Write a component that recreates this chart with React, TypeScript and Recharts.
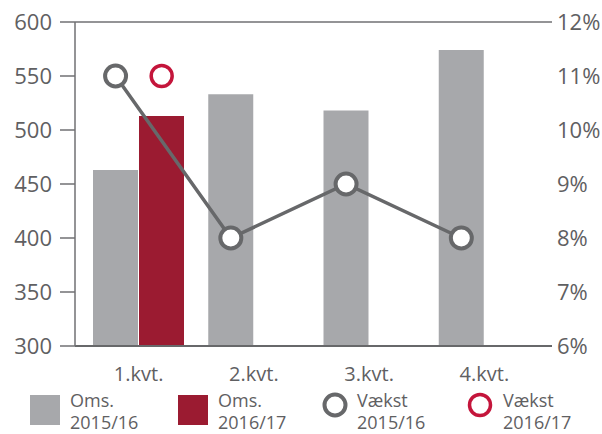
import React from 'react';
import { ComposedChart, Bar, Line, XAxis, YAxis, CartesianGrid, Legend } from 'recharts';

const quarters = ['1.kvt.', '2.kvt.', '3.kvt.', '4.kvt.'];
const oms1516 = [463, 533, 518, 574];
const oms1617: (number | null)[] = [513, null, null, null];
const vaekst1516 = [11, 8, 9, 8];
const vaekst1617: (number | null)[] = [11, null, null, null];
const leftTicks = [300, 350, 400, 450, 500, 550, 600];
const rightTicks = [6, 7, 8, 9, 10, 11, 12];

const FONT = '"Open Sans", "Noto Sans", sans-serif';
const TEXT = '#5f6062';
const GRID = '#707173';
const GRAYBAR = '#a7a8ab';
const REDBAR = '#9b1b31';
const LINEGRAY = '#67686a';
const RED = '#c4153b';

const BAR_SIZE = 45;
const BAR_GAP = 1;
// fraction of a category band that each bar centre is shifted from the band centre
const SHIFT = 0.2;

const barData = quarters.map((q, i) => ({ q, a: oms1516[i], b: oms1617[i] }));
const line1516 = vaekst1516.map((v, i) => ({ x: i + 0.5 - SHIFT, v }));
const line1617 = vaekst1617
  .map((v, i) => ({ x: i + 0.5 + SHIFT, v }))
  .filter((d) => d.v !== null);

const LegendText = ({ left, l1, l2 }: { left: number; l1: string; l2: string }) => {
  const txt: React.CSSProperties = {
    position: 'absolute',
    left,
    fontSize: 18,
    lineHeight: '22px',
    height: 22,
    color: TEXT,
    fontFamily: FONT,
    whiteSpace: 'nowrap',
  };
  return (
    <>
      <div style={{ ...txt, top: 3 }}>{l1}</div>
      <div style={{ ...txt, top: 25 }}>{l2}</div>
    </>
  );
};

const LegendContent = () => (
  <div style={{ position: 'relative', width: 602, height: 48 }}>
    <div style={{ position: 'absolute', left: 30, top: 9, width: 30, height: 30, background: GRAYBAR }} />
    <LegendText left={70} l1="Oms." l2="2015/16" />
    <div style={{ position: 'absolute', left: 178, top: 9, width: 30, height: 30, background: REDBAR }} />
    <LegendText left={218} l1="Oms." l2="2016/17" />
    <svg style={{ position: 'absolute', left: 320, top: 4 }} width={30} height={30}>
      <circle cx={15} cy={15} r={10.5} fill="#fff" stroke={LINEGRAY} strokeWidth={4} />
    </svg>
    <LegendText left={357} l1="Vækst" l2="2015/16" />
    <svg style={{ position: 'absolute', left: 465, top: 4 }} width={30} height={30}>
      <circle cx={15} cy={15} r={10.5} fill="#fff" stroke={RED} strokeWidth={3.5} />
    </svg>
    <LegendText left={503} l1="Vækst" l2="2016/17" />
  </div>
);

export default function App() {
  const tickStyle = { fill: TEXT, fontSize: 22, fontFamily: FONT };
  return (
    <div style={{ position: 'absolute', left: 0, top: 0 }}>
      <ComposedChart
        width={602}
        height={434}
        data={barData}
        margin={{ top: 22, right: 0, bottom: 0, left: 0 }}
        barGap={BAR_GAP}
      >
        <CartesianGrid vertical={false} stroke={GRID} strokeWidth={1.5} />
        <XAxis
          dataKey="q"
          xAxisId="cat"
          height={40}
          padding={{ left: 6, right: 10 }}
          tickLine={false}
          axisLine={{ stroke: LINEGRAY, strokeWidth: 2 }}
          tickMargin={15}
          tick={{ fill: TEXT, fontSize: 20, fontFamily: FONT }}
        />
        <XAxis
          xAxisId="num"
          dataKey="x"
          type="number"
          domain={[0, 4]}
          padding={{ left: 6, right: 10 }}
          hide
        />
        <YAxis
          yAxisId="left"
          width={75}
          domain={[300, 600]}
          ticks={leftTicks}
          interval={0}
          tickSize={15}
          tickMargin={8}
          tickLine={{ stroke: GRID, strokeWidth: 1.5 }}
          axisLine={{ stroke: GRID, strokeWidth: 1.5 }}
          tick={tickStyle}
        />
        <YAxis
          yAxisId="right"
          orientation="right"
          width={50}
          domain={[6, 12]}
          ticks={rightTicks}
          interval={0}
          tickSize={0}
          tickMargin={5}
          tickLine={false}
          axisLine={false}
          tickFormatter={(v: number) => `${v}%`}
          tick={tickStyle}
        />
        <Legend verticalAlign="bottom" height={48} content={LegendContent} wrapperStyle={{ left: 0, width: 602 }} />
        <Bar xAxisId="cat" yAxisId="left" dataKey="a" fill={GRAYBAR} barSize={BAR_SIZE} isAnimationActive={false} />
        <Bar xAxisId="cat" yAxisId="left" dataKey="b" fill={REDBAR} barSize={BAR_SIZE} isAnimationActive={false} />
        <Line
          xAxisId="num"
          yAxisId="right"
          data={line1516}
          dataKey="v"
          stroke={LINEGRAY}
          strokeWidth={3.5}
          dot={{ r: 10.5, stroke: LINEGRAY, strokeWidth: 4, fill: '#fff' }}
          activeDot={false}
          isAnimationActive={false}
        />
        <Line
          xAxisId="num"
          yAxisId="right"
          data={line1617}
          dataKey="v"
          stroke="none"
          dot={{ r: 10.5, stroke: RED, strokeWidth: 3.5, fill: '#fff' }}
          activeDot={false}
          isAnimationActive={false}
        />
      </ComposedChart>
    </div>
  );
}
